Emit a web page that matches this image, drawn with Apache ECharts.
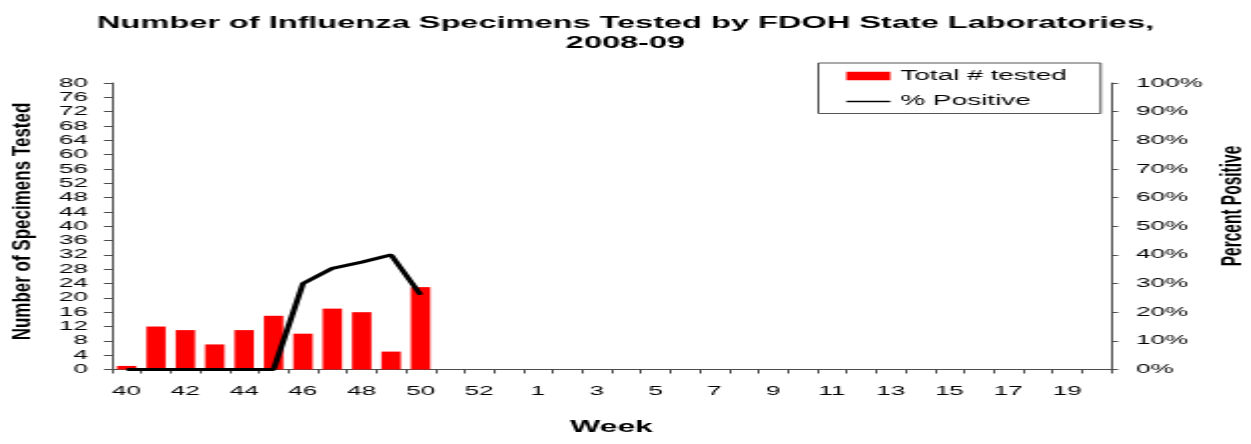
<!DOCTYPE html>
<html>
<head>
<meta charset="utf-8">
<script src="https://cdn.jsdelivr.net/npm/echarts@6/dist/echarts.min.js"></script>
<style>
html, body { margin: 0; padding: 0; overflow: hidden; background: #fff; }
/* the reference is a horizontally stretched picture, so draw narrow and stretch */
#chart { width: 626px; height: 444px; transform: scaleX(1.9984); transform-origin: 0 0; }
</style>
</head>
<body>
<div id="chart"></div>
<script>
var weeks = ['40', '41', '42', '43', '44', '45', '46', '47', '48', '49', '50', '51', '52', '53',
  '1', '2', '3', '4', '5', '6', '7', '8', '9', '10', '11', '12', '13', '14', '15', '16', '17', '18', '19', '20'];
var totalTested = [1, 12, 11, 7, 11, 15, 10, 17, 16, 5, 23];
var pctPositive = [0, 0, 0, 0, 0, 0, 30, 35.3, 37.5, 40, 26.1];

var axisGray = '#4d4d4d';
var font = 'Liberation Sans';

var myChart = echarts.init(document.getElementById('chart'));
var option = {
  animation: false,
  textStyle: { fontFamily: font },
  title: {
    text: 'Number of Influenza Specimens Tested by FDOH State Laboratories,\n2008-09',
    left: 'center',
    top: 8,
    textStyle: { fontSize: 16.3, fontWeight: 'bold', color: '#000', lineHeight: 20.5 }
  },
  legend: {
    orient: 'vertical',
    left: 409.5,
    top: 63,
    padding: [5, 17, 4, 14],
    itemGap: 9.5,
    itemWidth: 22,
    itemHeight: 8.5,
    borderColor: '#555',
    borderWidth: 1,
    textStyle: { fontSize: 14, color: '#000', lineHeight: 16 },
    data: [
      { name: 'Total # tested', icon: 'rect' },
      { name: '% Positive', icon: 'path://M0,0L44,0L44,3L0,3Z' }
    ]
  },
  grid: { left: 56, right: 70, top: 83, bottom: 74.5, outerBoundsMode: 'none' },
  xAxis: {
    type: 'category',
    data: weeks,
    boundaryGap: true,
    axisLine: { lineStyle: { color: axisGray } },
    axisTick: { show: true, interval: 0, length: 4, lineStyle: { color: axisGray } },
    axisLabel: { interval: 1, fontSize: 13, color: '#000', margin: 15 },
    name: 'Week',
    nameLocation: 'middle',
    nameGap: 50,
    nameTextStyle: { fontSize: 16, fontWeight: 'bold', color: '#000' }
  },
  yAxis: [
    {
      type: 'value',
      position: 'left',
      min: 0,
      max: 80,
      interval: 4,
      axisLine: { show: true, lineStyle: { color: axisGray } },
      axisTick: { show: true, length: 4, lineStyle: { color: axisGray } },
      splitLine: { show: false },
      axisLabel: { fontSize: 13, color: '#000', margin: 12 }
    },
    {
      type: 'value',
      position: 'right',
      min: 0,
      max: 100,
      interval: 10,
      axisLine: { show: true, lineStyle: { color: axisGray } },
      axisTick: { show: true, length: 3.5, lineStyle: { color: axisGray } },
      splitLine: { show: false },
      axisLabel: { fontSize: 13, color: '#000', margin: 12.5, formatter: '{value}%' }
    }
  ],
  graphic: [
    {
      type: 'text',
      x: 11.5,
      y: 221.5,
      rotation: Math.PI / 2,
      scaleY: 0.7,
      style: { text: 'Number of Specimens Tested', font: 'bold 17px "Liberation Sans"', fill: '#000', align: 'center', verticalAlign: 'middle' }
    },
    {
      type: 'text',
      x: 616.5,
      y: 206,
      rotation: Math.PI / 2,
      style: { text: 'Percent Positive', font: 'bold 15.5px "Liberation Sans"', fill: '#000', align: 'center', verticalAlign: 'middle' }
    }
  ],
  series: [
    {
      name: 'Total # tested',
      type: 'bar',
      data: totalTested,
      barCategoryGap: '34%',
      itemStyle: { color: '#ff0000' }
    },
    {
      name: '% Positive',
      type: 'line',
      yAxisIndex: 1,
      data: pctPositive,
      symbol: 'none',
      lineStyle: { color: '#000', width: 3 },
      itemStyle: { color: '#000' }
    }
  ]
};
myChart.setOption(option);
</script>
</body>
</html>
